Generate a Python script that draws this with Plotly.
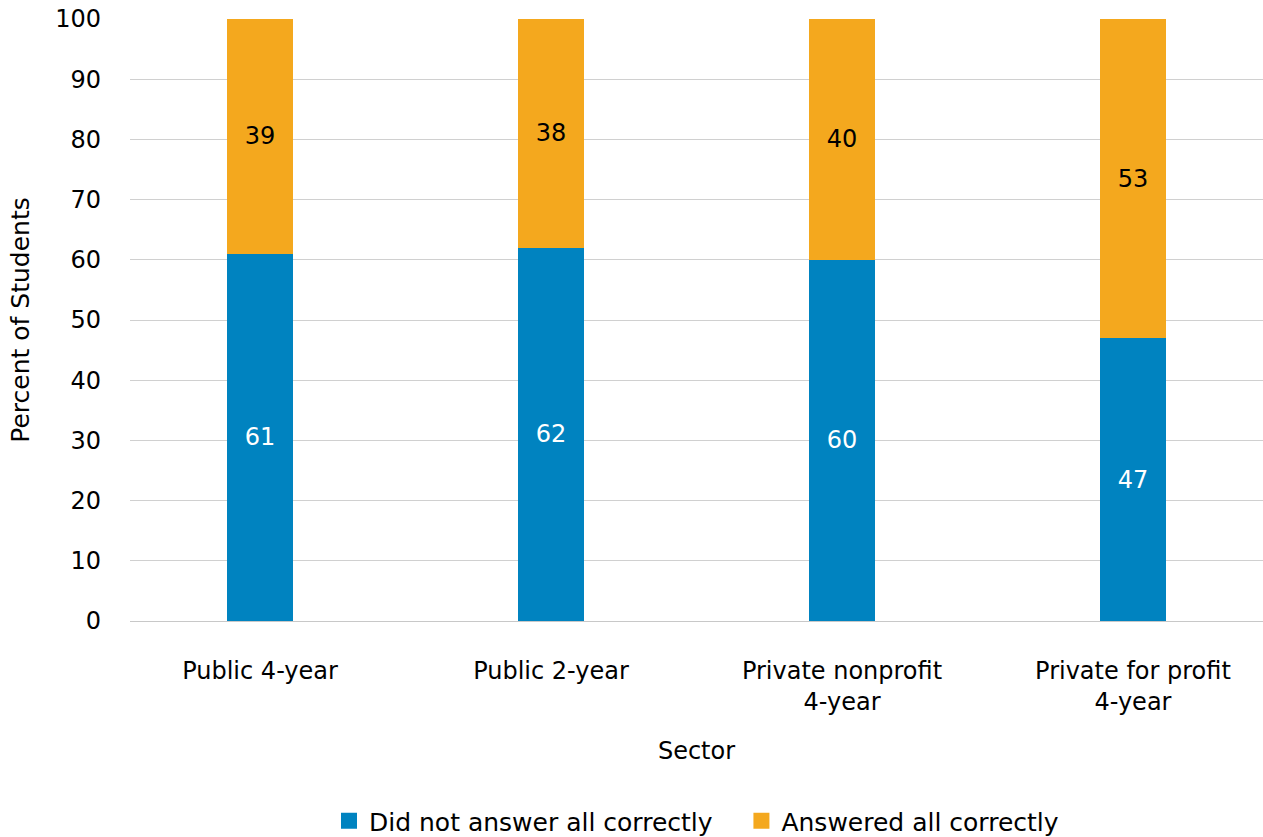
import plotly.graph_objects as go

categories = ["Public 4-year", "Public 2-year", "Private nonprofit<br>4-year", "Private for profit<br>4-year"]
not_all_correct = [61, 62, 60, 47]
all_correct = [39, 38, 40, 53]
series_names = ["Did not answer all correctly", "Answered all correctly"]
y_ticks = [0, 10, 20, 30, 40, 50, 60, 70, 80, 90, 100]

FONT = "DejaVu Sans, Liberation Sans, sans-serif"
BLUE = "#0083C0"
ORANGE = "#F4A81E"

fig = go.Figure()
fig.add_trace(go.Bar(
    x=categories, y=not_all_correct, name=series_names[0], showlegend=False,
    marker=dict(color=BLUE, line=dict(width=0)), width=0.227,
    text=[str(v) for v in not_all_correct], textposition="inside",
    insidetextanchor="middle", textangle=0,
    textfont=dict(color="white", size=24, family=FONT),
))
fig.add_trace(go.Bar(
    x=categories, y=all_correct, name=series_names[1], showlegend=False,
    marker=dict(color=ORANGE, line=dict(width=0)), width=0.227,
    text=[str(v) for v in all_correct], textposition="inside",
    insidetextanchor="middle", textangle=0,
    textfont=dict(color="black", size=24, family=FONT),
))
# legend entries (square swatches)
legend_labels = [series_names[0] + "\u00a0\u00a0\u00a0", series_names[1]]
for name, col in zip(legend_labels, [BLUE, ORANGE]):
    fig.add_trace(go.Scatter(
        x=[None], y=[None], mode="markers", name=name,
        marker=dict(symbol="square", size=18, color=col),
    ))

fig.update_layout(
    barmode="stack",
    width=1263, height=837,
    margin=dict(l=130, r=0, t=19, b=216, autoexpand=False),
    paper_bgcolor="white", plot_bgcolor="white",
    font=dict(family=FONT, size=24, color="black"),
    uniformtext=dict(mode=False),
    legend=dict(
        orientation="h", x=0.5, xanchor="center", xref="paper",
        y=1 - 821 / 837, yanchor="middle", yref="container",
        font=dict(size=25, family=FONT), itemsizing="trace",
        traceorder="normal", itemwidth=30,
    ),
    xaxis=dict(
        range=[-0.447, 3.447], showgrid=False, showline=False, ticks="",
        tickfont=dict(size=24), zeroline=False, ticklabelstandoff=33,
        automargin=False,
        title=dict(text="Sector", font=dict(size=24), standoff=26),
    ),
    yaxis=dict(
        range=[0, 100], tickvals=y_ticks, showgrid=True,
        gridcolor="#D0D0D0", gridwidth=1, zeroline=True,
        zerolinecolor="#C8C8C8", zerolinewidth=1, showline=False,
        ticks="", ticklabelstandoff=28, tickfont=dict(size=24),
        automargin=False,
        title=dict(text="Percent of Students", font=dict(size=25), standoff=18),
    ),
)

fig.write_html(
    "out.html",
    config={"displayModeBar": False},
    post_script="document.body.style.margin='0';document.body.style.overflow='hidden';",
)
